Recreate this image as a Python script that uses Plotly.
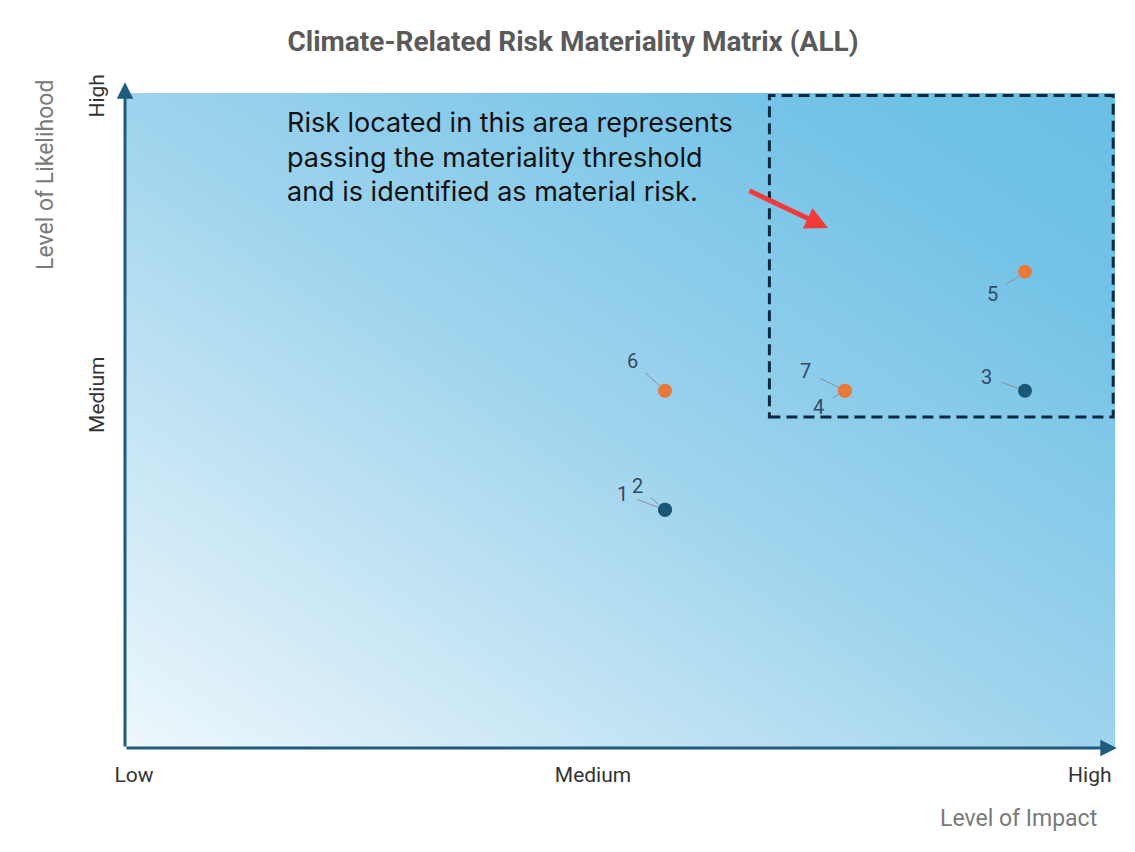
import base64
import plotly.graph_objects as go

# ---------------- data ----------------
risk_ids = ["1", "2", "3", "4", "5", "6", "7"]
impact = [3, 3, 5, 4, 5, 3, 4]          # Level of Impact (x)
likelihood = [2, 2, 3, 3, 4, 3, 3]      # Level of Likelihood (y)
risk_group = ["blue", "blue", "blue", "orange", "orange", "orange", "orange"]

x_tick_vals = [0.05, 2.6, 5.36]
x_tick_text = ["Low", "Medium", "High"]
y_tick_vals = [5.45, 2.94]
y_tick_text = ["High", "Medium"]

threshold_impact = 3.58
threshold_likelihood = 2.78

title_text = "Climate-Related Risk Materiality Matrix (ALL)"
note_lines = ["Risk located in this area represents",
              "passing the materiality threshold",
              "and is identified as material risk."]

# label offsets (pixels) for the point labels: (ax, ay)
label_offsets = {"1": (-43, -16), "2": (-28, -24), "3": (-39, -14), "4": (-27, 16),
                 "5": (-33, 22), "6": (-33, -30), "7": (-40, -20)}

X_MAX = 5.5
Y_MAX = 5.5

# the page puts the figure 8px from the window's top-left corner
OFF = 8
W, H = 1135 - OFF, 852 - OFF
PL, PR, PT, PB = 125, 1115, 93, 748          # plot area in window pixels
PW, PH = PR - PL, PB - PT


def px(xw):
    return (xw - PL) / PW


def py(yw):
    return (PB - yw) / PH


colors = {"blue": "#1b5878", "orange": "#e8793a"}

fig = go.Figure()

for grp in ["blue", "orange"]:
    xs = [impact[i] for i in range(len(risk_ids)) if risk_group[i] == grp]
    ys = [likelihood[i] for i in range(len(risk_ids)) if risk_group[i] == grp]
    fig.add_trace(go.Scatter(x=xs, y=ys, mode="markers",
                             marker=dict(size=14, color=colors[grp], line=dict(width=0)),
                             hoverinfo="skip", showlegend=False, cliponaxis=False))

annotations = []
for i, rid in enumerate(risk_ids):
    ax, ay = label_offsets[rid]
    annotations.append(dict(x=impact[i], y=likelihood[i], xref="x", yref="y",
                            text=rid, showarrow=True, ax=ax, ay=ay,
                            arrowhead=0, arrowwidth=1, arrowcolor="#8a8f96",
                            standoff=7, startstandoff=9,
                            font=dict(family="Roboto", size=20, color="#34495e")))

# axis arrows
axis_col = "#1e5b7c"
annotations.append(dict(x=5.51, y=0, ax=0, ay=0, xref="x", yref="y", axref="x", ayref="y",
                        text="", showarrow=True, arrowhead=2, arrowsize=1.1,
                        arrowwidth=3, arrowcolor=axis_col, standoff=0))
annotations.append(dict(x=0, y=5.59, ax=0, ay=0, xref="x", yref="y", axref="x", ayref="y",
                        text="", showarrow=True, arrowhead=2, arrowsize=1.1,
                        arrowwidth=3, arrowcolor=axis_col, standoff=0))

# red arrow
annotations.append(dict(x=3.906, y=4.366, ax=3.461, ay=4.685, xref="x", yref="y",
                        axref="x", ayref="y", text="", showarrow=True, arrowhead=2,
                        arrowsize=0.9, arrowwidth=5, arrowcolor="#f23a3a", standoff=0))

# note text
for k, line in enumerate(note_lines):
    annotations.append(dict(x=px(285), y=py(122 + 35 * k),
                            xref="paper", yref="paper", xanchor="left", yanchor="middle",
                            text=line, showarrow=False,
                            font=dict(family="Inter", size=27, color="#111111")))

# axis titles
annotations.append(dict(x=px(1099), y=py(818), xref="paper", yref="paper",
                        xanchor="right", yanchor="middle", text="Level of Impact",
                        showarrow=False, font=dict(family="Roboto", size=23, color="#7a7a7a")))
annotations.append(dict(x=px(45), y=py(175), xref="paper", yref="paper",
                        xanchor="center", yanchor="middle", text="Level of Likelihood",
                        textangle=-90, showarrow=False,
                        font=dict(family="Roboto", size=23, color="#7a7a7a")))

# gradient background image
svg = ('<svg xmlns="http://www.w3.org/2000/svg" width="100" height="100" viewBox="0 0 100 100" '
       'preserveAspectRatio="none"><defs><linearGradient id="g" x1="0" y1="1" x2="1" y2="0">'
       '<stop offset="0" stop-color="#eef7fc"/><stop offset="0.5" stop-color="#9dd3ed"/>'
       '<stop offset="0.85" stop-color="#71c2e6"/><stop offset="1" stop-color="#6bbfe4"/>'
       '</linearGradient></defs>'
       '<rect width="100" height="100" fill="url(#g)"/></svg>')
src = "data:image/svg+xml;base64," + base64.b64encode(svg.encode()).decode()

shapes = [
    dict(type="rect", xref="x", yref="y", x0=threshold_impact, x1=5.49,
         y0=threshold_likelihood, y1=5.48,
         line=dict(color="#0d2a40", width=3, dash="11px,6px"), fillcolor="rgba(0,0,0,0)"),
]

fig.update_layout(
    width=W, height=H,
    margin=dict(l=PL - OFF, r=W - (PR - OFF), t=PT - OFF, b=H - (PB - OFF)),
    paper_bgcolor="white", plot_bgcolor="rgba(0,0,0,0)",
    title=dict(text=f"<b>{title_text}</b>", x=(573 - OFF) / W, xanchor="center",
               y=1 - (41 - OFF) / H, yanchor="middle",
               font=dict(family="Roboto", size=28, color="#5a5a5a")),
    xaxis=dict(range=[0, X_MAX], showgrid=False, zeroline=False, showline=False,
               tickvals=x_tick_vals, ticktext=x_tick_text, ticks="", ticklabelstandoff=12,
               tickfont=dict(family="Roboto", size=21, color="#333333"), fixedrange=True),
    yaxis=dict(range=[0, Y_MAX], showgrid=False, zeroline=False, showline=False,
               tickvals=y_tick_vals, ticktext=y_tick_text, ticks="", tickangle=-90,
               ticklabelstandoff=16,
               tickfont=dict(family="Roboto", size=21, color="#333333"), fixedrange=True),
    images=[dict(source=src, xref="x", yref="y", x=0, y=Y_MAX, sizex=X_MAX, sizey=Y_MAX,
                 sizing="stretch", layer="below", xanchor="left", yanchor="top")],
    shapes=shapes,
    annotations=annotations,
    showlegend=False,
)

fig.write_html("out.html")
